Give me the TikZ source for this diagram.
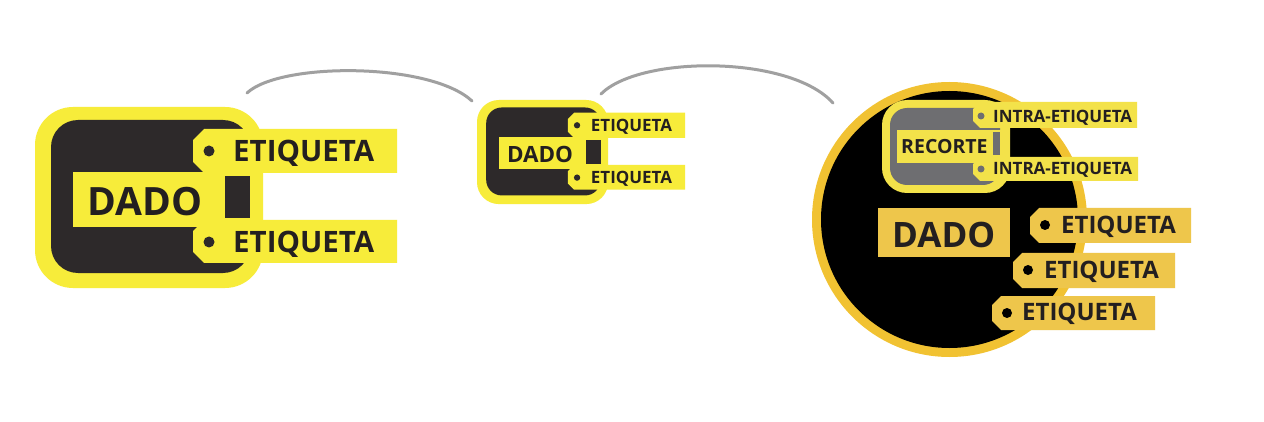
\documentclass[tikz,border=0pt]{standalone}
\usepackage{fontspec}
\setmainfont{Open Sans}
\definecolor{yel}{RGB}{247,236,58}
\definecolor{drk}{RGB}{45,41,42}
\definecolor{gold}{RGB}{241,194,50}
\definecolor{goldbox}{RGB}{238,198,75}
\definecolor{ryel}{RGB}{243,226,74}
\definecolor{gry}{RGB}{110,110,113}
\definecolor{txt}{RGB}{35,31,32}
\definecolor{arcg}{RGB}{160,160,160}
\newcommand\tagfill[6]{\fill[#6] (#1+#5,#2) -- (#3,#2) -- (#3,#4) -- (#1+#5,#4) -- (#1,#4-#5) -- (#1,#2+#5) -- cycle;}
\newcommand\fsz[1]{\bfseries\fontsize{#1}{#1}\selectfont}
\newcommand\dadofig[2]{%
  \fill[yel, rounded corners={38*#2}] (0,0) rectangle (228,181);
  \fill[drk, rounded corners={27*#2}] (16,13) rectangle (215,166);
  \tagfill{158}{22}{362}{66}{11}{yel}
  \tagfill{158}{113}{362}{156}{11}{yel}
  \fill[yel] (38,65) rectangle (216,120);
  \fill[drk] (190,69) rectangle (215,111);
  \fill[drk] (174,44) circle[radius=5.5];
  \fill[drk] (174,135) circle[radius=5.5];
  \node[txtn, anchor=base west, font=\fsz{29.5}] (#1e1) at (198,54.5) {ETIQUETA};
  \node[txtn, anchor=base west, font=\fsz{29.5}] (#1e2) at (198,145.5) {ETIQUETA};
  \node[txtn, anchor=base west, font=\fsz{39}] (#1d) at (52,108.4) {DADO};
}
\begin{document}
\begin{tikzpicture}[x=1pt,y=-1pt, txtn/.style={inner sep=0pt, text=txt},
  arcline/.style={arcg, line width=3pt, line cap=round}]
\useasboundingbox (0,0) rectangle (1264,422);
\fill[white] (0,0) rectangle (1264,422);
% left figure
\begin{scope}[shift={(35,107)}]
  \dadofig{L}{1}
\end{scope}
% middle figure
\begin{scope}[shift={(477,100)}, scale=0.575, transform shape]
  \dadofig{M}{0.575}
\end{scope}
% right figure
\fill[gold] (949.5,219.5) circle[radius=137.5];
\fill[black] (949.5,219.5) circle[radius=128.5];
\fill[ryel, rounded corners=25pt] (882,100) rectangle (1010,193);
\fill[gry, rounded corners=17pt] (890,108) rectangle (1000,185);
\tagfill{973}{102}{1137}{128}{7}{ryel}
\tagfill{973}{157}{1138}{181}{7}{ryel}
\fill[ryel] (897,130) rectangle (1001,163);
\fill[gry] (993,132) rectangle (1000,155);
\fill[gry] (981,116) circle[radius=3.5];
\fill[gry] (981,169) circle[radius=3.5];
\node[txtn, anchor=base west, font=\fsz{17}] (ri1) at (993,123) {INTRA-ETIQUETA};
\node[txtn, anchor=base west, font=\fsz{17}] (ri2) at (993,175) {INTRA-ETIQUETA};
\node[txtn, anchor=base west, font=\fsz{19.5}] (rr) at (901,153.5) {RECORTE};
\fill[goldbox] (878,208) rectangle (1010,257);
\node[txtn, anchor=base west, font=\fsz{35}] (rd) at (892,247.5) {DADO};
\tagfill{1030}{208}{1191}{243}{9}{goldbox}
\tagfill{1013}{253}{1175}{288}{9}{goldbox}
\tagfill{992}{296}{1155}{330}{9}{goldbox}
\fill[black] (1045,225) circle[radius=5];
\fill[black] (1028,270) circle[radius=5];
\fill[black] (1007,313) circle[radius=5];
\node[txtn, anchor=base west, font=\fsz{24}] (re1) at (1061,233.6) {ETIQUETA};
\node[txtn, anchor=base west, font=\fsz{24}] (re2) at (1044,278.6) {ETIQUETA};
\node[txtn, anchor=base west, font=\fsz{24}] (re3) at (1022,320.6) {ETIQUETA};
% arcs
\coordinate (a1s) at (247,93);
\coordinate (a1e) at (472,101);
\coordinate (a2s) at (601,94);
\coordinate (a2e) at (833,103);
\draw[arcline] (a1s) .. controls (280,62) and (430,62) .. (a1e);
\draw[arcline] (a2s) .. controls (640,55) and (790,55) .. (a2e);
\end{tikzpicture}
\end{document}
